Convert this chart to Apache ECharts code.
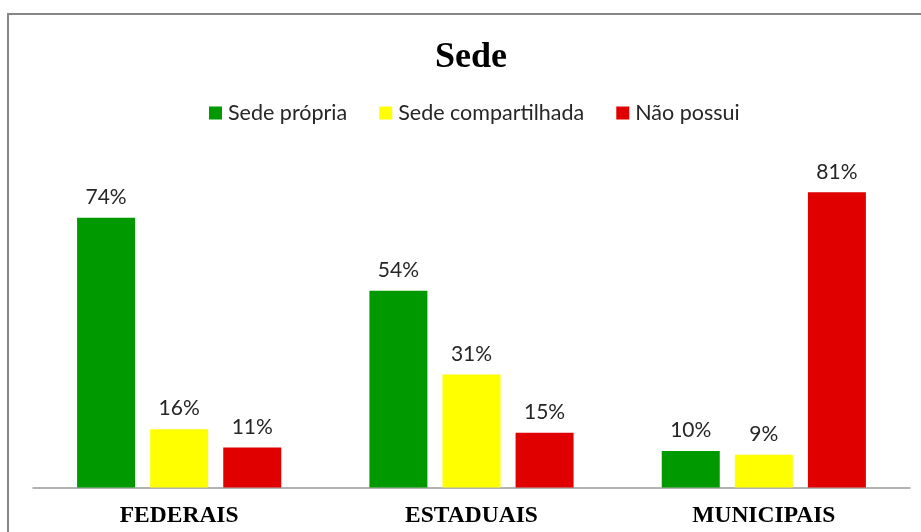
<!DOCTYPE html>
<html>
<head>
<meta charset="utf-8">
<script src="https://cdn.jsdelivr.net/npm/echarts@6/dist/echarts.min.js"></script>
<style>
  html, body { margin: 0; padding: 0; background: #fff; }
  #main { width: 921px; height: 532px; }
</style>
</head>
<body>
<div id="main"></div>
<script>
  // dados do gráfico
  var categorias = ["FEDERAIS", "ESTADUAIS", "MUNICIPAIS"];
  var sedePropria = [74, 54, 10];
  var sedeCompartilhada = [16, 31, 9];
  var naoPossui = [11, 15, 81];

  var chart = echarts.init(document.getElementById("main"));

  function serie(nome, dados, cor) {
    return {
      name: nome,
      type: "bar",
      data: dados,
      barWidth: 58,
      barGap: "26%",
      itemStyle: { color: cor },
      label: {
        show: true,
        position: "top",
        distance: 10,
        formatter: "{c}%",
        fontFamily: "Lato",
        fontSize: 21,
        color: "#262626"
      }
    };
  }

  var option = {
    animation: false,
    title: {
      text: "Sede",
      left: 435,
      top: 40,
      padding: 0,
      textStyle: {
        fontFamily: "Liberation Serif",
        fontWeight: "bold",
        fontSize: 36,
        color: "#000"
      }
    },
    legend: {
      top: 97,
      left: 204,
      itemWidth: 13,
      itemHeight: 13,
      itemGap: 32,
      icon: "rect",
      textStyle: { fontFamily: "Lato", fontSize: 21.5, color: "#262626", padding: [0, 0, 0, 1] }
    },
    grid: { left: 33, right: 11, top: 123, bottom: 44.5 },
    xAxis: {
      type: "category",
      data: categorias,
      axisLine: { lineStyle: { color: "#9a9a9a", width: 1.5 } },
      axisTick: { show: false },
      axisLabel: {
        margin: 16,
        fontFamily: "Liberation Serif",
        fontWeight: "bold",
        fontSize: 23.5,
        color: "#000"
      }
    },
    yAxis: {
      type: "value",
      min: 0,
      max: 100,
      show: false,
      splitLine: { show: false }
    },
    graphic: [
      {
        type: "rect",
        shape: { x: 8, y: 14, width: 1000, height: 600 },
        style: { fill: "none", stroke: "#868686", lineWidth: 2 },
        silent: true
      }
    ],
    series: [
      serie("Sede própria", sedePropria, "#009900"),
      serie("Sede compartilhada", sedeCompartilhada, "#ffff00"),
      serie("Não possui", naoPossui, "#e00000")
    ]
  };

  chart.setOption(option);
</script>
</body>
</html>
